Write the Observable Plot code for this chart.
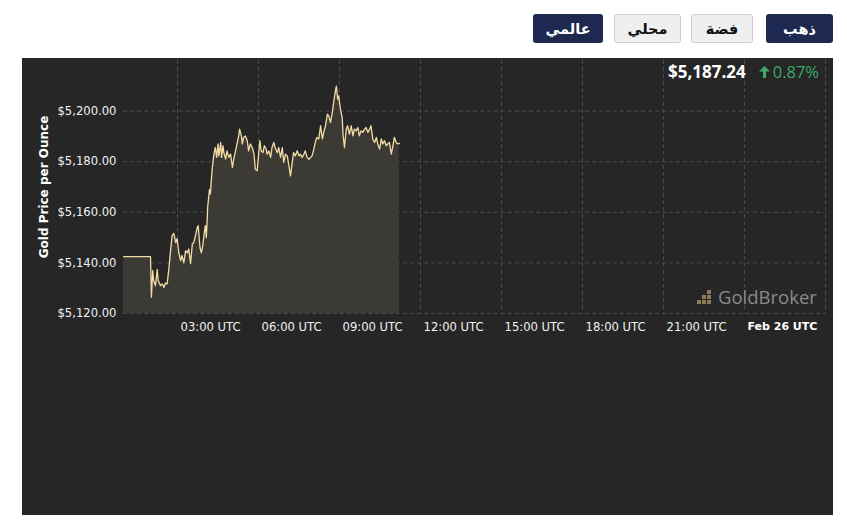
<!DOCTYPE html>
<html>
<head>
<meta charset="utf-8">
<script src="https://cdn.jsdelivr.net/npm/d3@7"></script>
<script src="https://cdn.jsdelivr.net/npm/@observablehq/plot@0.6"></script>
<style>
  body { margin: 0; background: #fff; font-family: "DejaVu Sans", sans-serif; }
  #wrap { position: relative; width: 847px; height: 523px; overflow: hidden; }
  .btn { position: absolute; top: 14px; height: 29px; border-radius: 3px; font: bold 14.5px "DejaVu Sans", sans-serif;
         display: flex; align-items: center; justify-content: center; box-sizing: border-box; direction: rtl; }
  .dark { background: #1d2951; color: #fff; }
  .light { background: #efefef; color: #111; border: 1px solid #cfcfcf; }
  #panel { position: absolute; left: 22px; top: 58px; width: 811px; height: 457px; background: #262626; }
  #chart svg { position: absolute; left: 0; top: 0; }
  #price { position: absolute; right: 14px; top: 2px; font-family: "Open Sans", sans-serif; display: flex; align-items: center; }
  #price .val { color: #fff; font-weight: bold; font-size: 17px; }
  #price .chg { color: #3daa6b; font-size: 16.5px; margin-left: 13px; display: flex; align-items: center; }
  #price .chg svg { margin-right: 3px; }
  #wm { position: absolute; left: 672px; top: 226px; display: flex; align-items: center; font-family: "Open Sans", sans-serif; font-size: 18.5px; color: #8a8a8a; }
</style>
</head>
<body>
<div id="wrap">
  <div class="btn dark" style="left:766px;width:67px;">ذهب</div>
  <div class="btn light" style="left:691px;width:62px;">فضة</div>
  <div class="btn light" style="left:614px;width:67px;">محلي</div>
  <div class="btn dark" style="left:533px;width:70px;">عالمي</div>
  <div id="panel">
    <div id="chart"></div>
    <div id="price"><span class="val">$5,187.24</span><span class="chg"><svg width="11" height="12" viewBox="0 0 11 12"><path d="M5.5 0 L11 5.5 L7 5.5 L7 12 L4 12 L4 5.5 L0 5.5 Z" fill="#3daa6b"/></svg>0.87%</span></div>
    <div id="wm">
      <svg width="20" height="16" viewBox="0 0 20 16" style="margin-right:4px">
        <g fill="#8c7a55">
          <rect x="13" y="1" width="4" height="4"/>
          <rect x="8" y="6" width="4" height="4"/><rect x="13" y="6" width="4" height="4"/>
          <rect x="3" y="11" width="4" height="4"/><rect x="8" y="11" width="4" height="4"/><rect x="13" y="11" width="4" height="4"/>
        </g>
      </svg>
      <span>GoldBroker</span>
    </div>
  </div>
</div>
<script>
// Minutes after 00:00 UTC, Feb 25
const minutes = [60,120,122,125,127,131,135,137,140,142,146,150,153,157,161,164,168,172,176,179,183,187,190,194,198,202,205,209,213,216,220,224,226,230,233,236,240,242,244,246,247,250,251,253,257,261,264,267,270,272,276,278,281,283,287,290,294,298,302,305,309,313,316,318,322,324,327,331,335,338,342,346,350,353,357,361,363,366,370,373,377,379,383,387,390,394,398,402,405,409,413,416,420,424,427,431,435,438,442,446,450,453,457,461,464,468,472,476,479,483,487,490,494,498,502,505,509,513,516,520,524,527,531,533,536,538,542,546,548,551,555,558,562,566,570,573,577,581,584,588,592,596,599,603,607,610,614,618,622,625,629,633,636,640,644,647,651,655,658,662,666,670,673];
// Gold price (USD per ounce)
const prices = [5142.5,5142.5,5126.4,5137,5133,5131,5137.4,5133,5132,5131,5131.7,5130.3,5132,5131.7,5138,5143.7,5150.8,5151.6,5148,5149.6,5144,5140.9,5143,5140,5144.8,5144,5145.5,5139.7,5147.6,5148,5150.8,5154,5154.7,5146,5144,5146.6,5152.7,5154.7,5150,5157,5162,5167,5169,5167.3,5177,5183,5185.6,5181.7,5187,5182.3,5187.6,5181.7,5186.3,5183.6,5181,5184.3,5181.7,5183,5177.7,5181,5184.3,5187.6,5190.2,5192.9,5190.2,5187,5189.6,5190.2,5188.3,5184.3,5187,5185.6,5183,5177,5176.4,5184.3,5188.3,5184.3,5183.6,5186.3,5185,5183,5184.3,5181.7,5185.6,5187.6,5185,5183.6,5185.6,5181.7,5185.6,5179.7,5183,5182.3,5179,5174.4,5179.7,5183.6,5182.3,5184.3,5182.3,5183,5181.7,5183,5184.3,5181.7,5181,5181.7,5182.3,5185,5188.3,5189.6,5189,5194.2,5189,5191.6,5194.2,5198.8,5198.1,5195.5,5199.4,5203.4,5208,5209.9,5204.7,5206,5200.8,5197.4,5190.2,5185.6,5192.9,5194.2,5190.9,5194.2,5190.2,5192.9,5192.2,5193.5,5190.2,5192.2,5191.6,5192.9,5193.5,5191.6,5192.9,5194.2,5189,5187.6,5189.6,5187,5185,5189,5187,5188.3,5186.3,5187,5187.6,5183,5185.6,5189.6,5187.6,5187,5187.24];

const yTicks = [5120, 5140, 5160, 5180, 5200];
const xTickHours = [3, 6, 9, 12, 15, 18, 21, 24];
const xTickLabels = ["03:00 UTC", "06:00 UTC", "09:00 UTC", "12:00 UTC", "15:00 UTC", "18:00 UTC", "21:00 UTC", "Feb 26 UTC"];
const xGridHours = [3, 6, 9, 12, 15, 18, 21, 24, 27];
const yTitle = "Gold Price per Ounce";

const at = (h, m = 0) => new Date(Date.UTC(2026, 1, 25, h, m));
const data = minutes.map((m, i) => ({t: at(0, m), p: prices[i]}));
const regTicks = xTickHours.slice(0, 7).map(h => at(h));
const dayTicks = xTickHours.slice(7).map(h => at(h));
const labelOf = d => xTickLabels[xTickHours.indexOf((d - at(0)) / 3600000)];

const chart = Plot.plot({
  width: 811,
  height: 457,
  marginLeft: 101,
  marginRight: 8,
  marginTop: 2,
  marginBottom: 202,
  style: {background: "transparent", color: "#eeeeee", fontFamily: "DejaVu Sans", fontSize: "11.6px"},
  x: {type: "utc", domain: [at(1), at(27)]},
  y: {domain: [5120, 5220]},
  marks: [
    Plot.gridY(yTicks, {stroke: "#4a4a4a", strokeOpacity: 1, strokeDasharray: "4,3"}),
    Plot.gridX(xGridHours.map(h => at(h)), {stroke: "#4a4a4a", strokeOpacity: 1, strokeDasharray: "4,3"}),
    Plot.areaY(data, {x: "t", y1: 5120, y2: "p", fill: "#3c3a34"}),
    Plot.line(data, {x: "t", y: "p", stroke: "#f3dba5", strokeWidth: 1.3}),
    Plot.axisY(yTicks, {tickSize: 0, tickPadding: 7, label: null, fill: "#f2f2f2", tickFormat: d => "$" + d3.format(",.2f")(d)}),
    Plot.axisX(regTicks, {tickSize: 0, tickPadding: 9, textAnchor: "start", dx: 3, label: null, fill: "#f2f2f2", tickFormat: labelOf}),
    Plot.axisX(dayTicks, {tickSize: 0, tickPadding: 9, textAnchor: "start", dx: 3, label: null, fill: "#ffffff", fontWeight: "bold", fontSize: 11, tickFormat: labelOf}),
    Plot.text([yTitle], {frameAnchor: "left", textAnchor: "middle", dx: -79, rotate: -90, fill: "#ffffff", fontWeight: "bold", fontSize: 12})
  ]
});
document.getElementById("chart").appendChild(chart);
</script>
</body>
</html>
